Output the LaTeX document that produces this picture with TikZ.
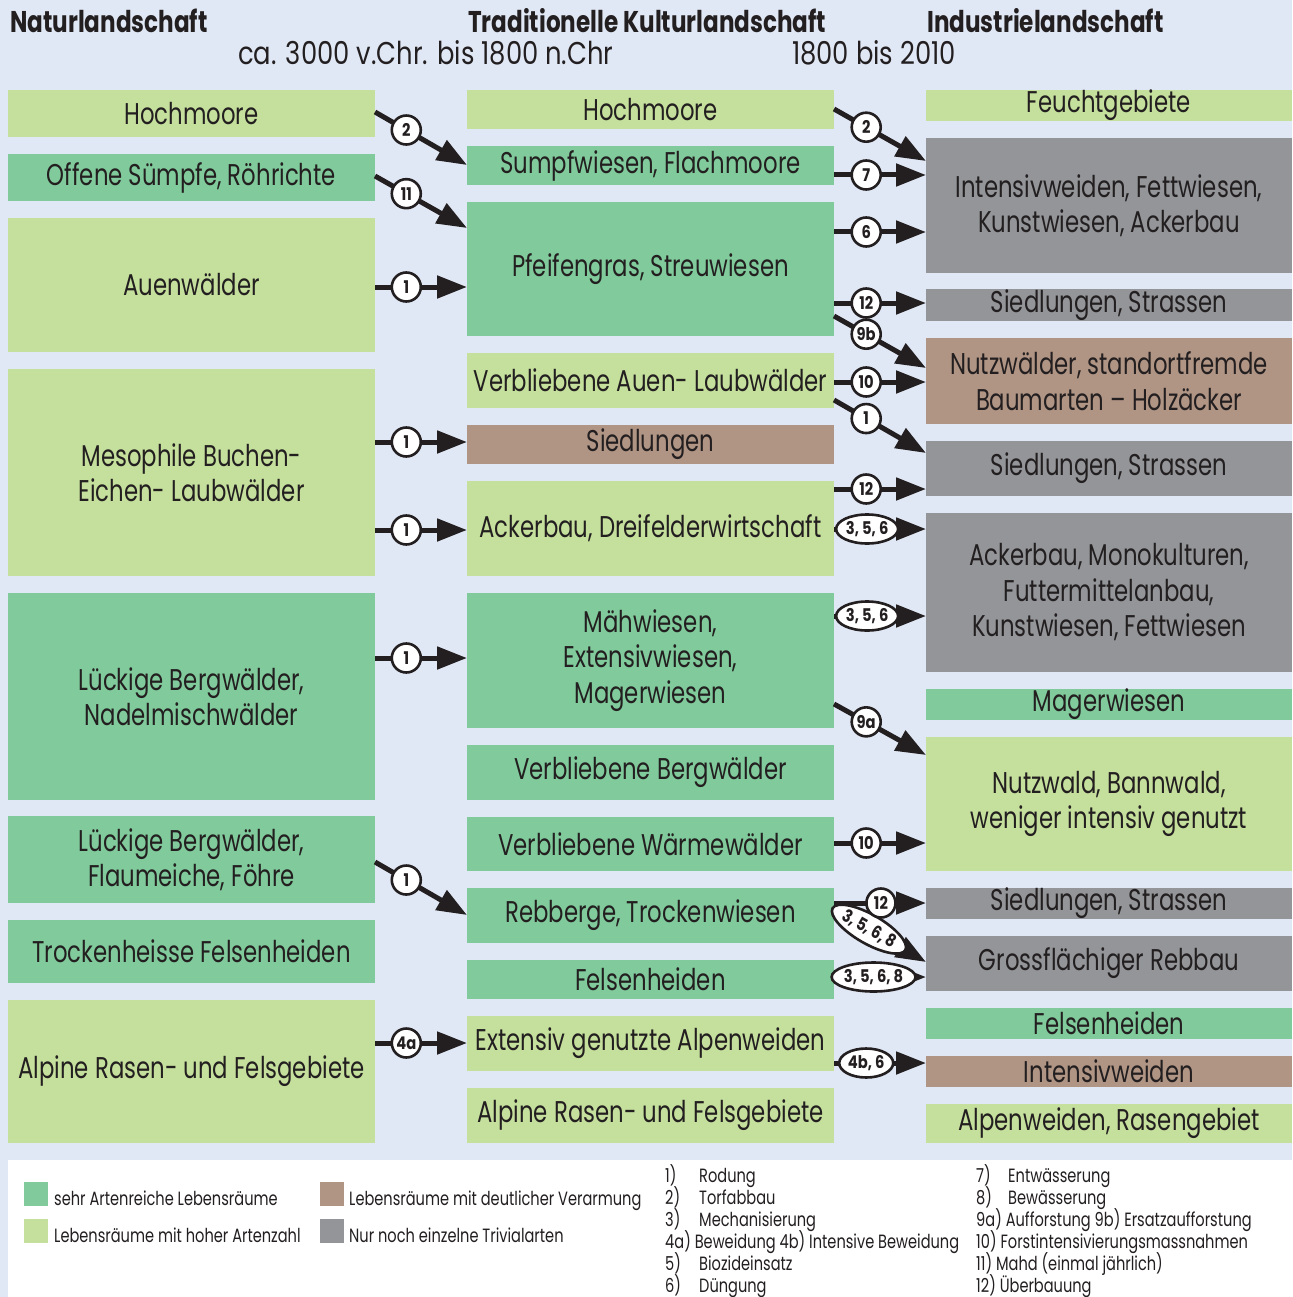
\documentclass[tikz,border=0pt]{standalone}
\usepackage{fontspec}
\setmainfont{Poppins}[FakeStretch=0.76]
\newfontfamily\headfont{Poppins}[FakeStretch=0.77]
\newfontfamily\erafont{Poppins}[FakeStretch=0.82]
\newfontfamily\tagfam{Poppins}[FakeStretch=0.84]
\usetikzlibrary{arrows.meta,shapes.geometric}

\definecolor{paper}{HTML}{E1E8F5}
\definecolor{rich}{HTML}{80CA9B}
\definecolor{high}{HTML}{C5E09D}
\definecolor{poor}{HTML}{B09585}
\definecolor{trivial}{HTML}{939598}
\definecolor{ink}{HTML}{231F20}

\newcommand\boxfont{\fontsize{30}{35.5}\selectfont}
\newcommand\tagfont{\tagfam\bfseries\fontsize{17.5}{17.5}\selectfont}
\newcommand\keyfont{\fontsize{19.2}{22}\selectfont}

% habitat box: name, colour, x0, y0, x1, y1, text
\newcommand\habitat[7]{%
  \node[hab, fill=#2, minimum width={#5pt-#3pt}, minimum height={#6pt-#4pt}]
    (#1) at (#3,#4) {#7};}

\tikzset{
  hab/.style={anchor=north west, inner sep=0pt, outer sep=0pt, align=center,
    font=\boxfont, text=ink},
  flow/.style={line width=5pt, draw=ink, -{Triangle[length=30pt,width=22pt]}},
  tag/.style={circle, draw=ink, line width=2.6pt, fill=white, inner sep=0pt,
    minimum size=29pt, font=\tagfont, text=ink},
  oval/.style={ellipse, draw=ink, line width=2.6pt, fill=white, inner sep=0pt,
    minimum height=29pt, font=\tagfont, text=ink},
  head/.style={anchor=base west, inner sep=0pt, text=ink,
    font=\headfont\bfseries\fontsize{30}{30}\selectfont},
  era/.style={anchor=base west, inner sep=0pt, text=ink,
    font=\erafont\fontsize{31.5}{31.5}\selectfont},
  key/.style={anchor=base west, inner sep=0pt, text=ink, font=\keyfont},
}

\begin{document}
\begin{tikzpicture}[x=1pt, y=-1pt]
\useasboundingbox (0,0) rectangle (1292,1297);
\fill[paper] (0,0) rectangle (1292,1297);

% column headings
\node[head] (h1) at (10,33) {Naturlandschaft};
\node[head] (h2) at (468,33) {Traditionelle Kulturlandschaft};
\node[head] (h3) at (927,33) {Industrielandschaft};
\node[era] (e2) at (238,65) {ca. 3000 v.Chr. bis 1800 n.Chr};
\node[era] (e3) at (792,65) {1800 bis 2010};

% natural landscape
\habitat{lHoch}{high}{8}{90}{375}{137}{Hochmoore}
\habitat{lSumpf}{rich}{8}{154}{375}{201}{Offene Sümpfe, Röhrichte}
\habitat{lAuen}{high}{8}{218}{375}{352}{Auenwälder}
\habitat{lMeso}{high}{8}{369}{375}{576}{Mesophile Buchen-\\Eichen- Laubwälder}
\habitat{lNadel}{rich}{8}{593}{375}{800}{Lückige Bergwälder,\\Nadelmischwälder}
\habitat{lFlaum}{rich}{8}{816}{375}{903}{Lückige Bergwälder,\\Flaumeiche, Föhre}
\habitat{lFels}{rich}{8}{920}{375}{983}{Trockenheisse Felsenheiden}
\habitat{lAlp}{high}{8}{1000}{375}{1143}{Alpine Rasen- und Felsgebiete}

% traditional cultural landscape
\habitat{mHoch}{high}{467}{90}{834}{129}{Hochmoore}
\habitat{mSumpf}{rich}{467}{146}{834}{185}{Sumpfwiesen, Flachmoore}
\habitat{mPfeif}{rich}{467}{202}{834}{336}{Pfeifengras, Streuwiesen}
\habitat{mAuen}{high}{467}{353}{834}{408}{Verbliebene Auen- Laubwälder}
\habitat{mSied}{poor}{467}{425}{834}{464}{Siedlungen}
\habitat{mAcker}{high}{467}{481}{834}{576}{Ackerbau, Dreifelderwirtschaft}
\habitat{mMaeh}{rich}{467}{593}{834}{728}{Mähwiesen,\\Extensivwiesen,\\Magerwiesen}
\habitat{mBerg}{rich}{467}{745}{834}{800}{Verbliebene Bergwälder}
\habitat{mWaerm}{rich}{467}{817}{834}{871}{Verbliebene Wärmewälder}
\habitat{mReb}{rich}{467}{888}{834}{943}{Rebberge, Trockenwiesen}
\habitat{mFels}{rich}{467}{960}{834}{999}{Felsenheiden}
\habitat{mExt}{high}{467}{1016}{834}{1071}{Extensiv genutzte Alpenweiden}
\habitat{mAlp}{high}{467}{1088}{834}{1143}{Alpine Rasen- und Felsgebiete}

% industrial landscape
\habitat{rFeucht}{high}{926}{90}{1292}{121}{Feuchtgebiete}
\habitat{rInt}{trivial}{926}{138}{1292}{273}{Intensivweiden, Fettwiesen,\\Kunstwiesen, Ackerbau}
\habitat{rSiedA}{trivial}{926}{289}{1292}{321}{Siedlungen, Strassen}
\habitat{rNutz}{poor}{926}{338}{1292}{424}{Nutzwälder, standortfremde\\Baumarten -- Holzäcker}
\habitat{rSiedB}{trivial}{926}{441}{1292}{496}{Siedlungen, Strassen}
\habitat{rMono}{trivial}{926}{513}{1292}{672}{Ackerbau, Monokulturen,\\Futtermittelanbau,\\Kunstwiesen, Fettwiesen}
\habitat{rMager}{rich}{926}{689}{1292}{720}{Magerwiesen}
\habitat{rWald}{high}{926}{737}{1292}{871}{Nutzwald, Bannwald,\\weniger intensiv genutzt}
\habitat{rSiedC}{trivial}{926}{888}{1292}{919}{Siedlungen, Strassen}
\habitat{rReb}{trivial}{926}{936}{1292}{991}{Grossflächiger Rebbau}
\habitat{rFels}{rich}{926}{1008}{1292}{1039}{Felsenheiden}
\habitat{rWeid}{poor}{926}{1056}{1292}{1087}{Intensivweiden}
\habitat{rAlp}{high}{926}{1104}{1292}{1143}{Alpenweiden, Rasengebiet}

% transitions: natural -> traditional
\draw[flow] (lHoch.east |- 0,112) -- node[tag,pos=.34]{2} (mSumpf.west |- 0,165);
\draw[flow] (lSumpf.east |- 0,176) -- node[tag,pos=.34]{11} (mPfeif.west |- 0,228);
\draw[flow] (lAuen.east |- 0,287) -- node[tag,pos=.34]{1} (mPfeif.west |- 0,287);
\draw[flow] (lMeso.east |- 0,442) -- node[tag,pos=.34]{1} (mSied.west |- 0,442);
\draw[flow] (lMeso.east |- 0,530) -- node[tag,pos=.34]{1} (mAcker.west |- 0,530);
\draw[flow] (lNadel.east |- 0,658) -- node[tag,pos=.34]{1} (mMaeh.west |- 0,658);
\draw[flow] (lFlaum.east |- 0,862) -- node[tag,pos=.34]{1} (mReb.west |- 0,915);
\draw[flow] (lAlp.east |- 0,1043) -- node[tag,pos=.34]{4a} (mExt.west |- 0,1043);

% transitions: traditional -> industrial
\draw[flow] (mHoch.east |- 0,109) -- node[tag,pos=.35]{2} (rInt.west |- 0,161);
\draw[flow] (mSumpf.east |- 0,175) -- node[tag,pos=.35]{7} (rInt.west |- 0,175);
\draw[flow] (mPfeif.east |- 0,232) -- node[tag,pos=.35]{6} (rInt.west |- 0,232);
\draw[flow] (mPfeif.east |- 0,303) -- node[tag,pos=.35]{12} (rSiedA.west |- 0,303);
\draw[flow] (mPfeif.east |- 0,316) -- node[tag,pos=.35]{9b} (rNutz.west |- 0,368);
\draw[flow] (mAuen.east |- 0,382) -- node[tag,pos=.35]{10} (rNutz.west |- 0,382);
\draw[flow] (mAuen.east |- 0,400) -- node[tag,pos=.35]{1} (rSiedB.west |- 0,453);
\draw[flow] (mAcker.east |- 0,489) -- node[tag,pos=.35]{12} (rSiedB.west |- 0,489);
\draw[flow] (mAcker.east |- 0,529) -- node[oval,minimum width=62pt,pos=.36]{3, 5, 6} (rMono.west |- 0,529);
\draw[flow] (mMaeh.east |- 0,616) -- node[oval,minimum width=62pt,pos=.36]{3, 5, 6} (rMono.west |- 0,616);
\draw[flow] (mMaeh.east |- 0,704) -- node[tag,pos=.35]{9a} (rWald.west |- 0,755);
\draw[flow] (mWaerm.east |- 0,843) -- node[tag,pos=.35]{10} (rWald.west |- 0,843);
\draw[flow] (mReb.east |- 0,909) -- node[oval,minimum width=78pt,sloped,pos=.38]{3, 5, 6, 8} (rReb.west |- 0,962);
\draw[flow] (mReb.east |- 0,903) -- node[tag,pos=.51]{12} (rSiedC.west |- 0,903);
\draw[flow] (mFels.east |- 0,977) -- node[oval,minimum width=78pt,pos=.43]{3, 5, 6, 8} (rReb.west |- 0,977);
\draw[flow] (mExt.east |- 0,1063) -- node[oval,minimum width=54pt,pos=.35]{4b, 6} (rWeid.west |- 0,1063);

% key
\fill[white] (8,1160) rectangle (1292,1297);
\fill[rich] (24,1182) rectangle (48,1206);
\fill[high] (24,1219) rectangle (48,1243);
\fill[poor] (320,1182) rectangle (344,1206);
\fill[trivial] (320,1219) rectangle (344,1243);
\node[key] (k1) at (54,1205) {sehr Artenreiche Lebensräume};
\node[key] (k2) at (54,1242) {Lebensräume mit hoher Artenzahl};
\node[key] (k3) at (349,1205) {Lebensräume mit deutlicher Verarmung};
\node[key] (k4) at (349,1242) {Nur noch einzelne Trivialarten};

\node[key] (n1) at (665,1182) {1)};  \node[key] (t1) at (699,1182) {Rodung};
\node[key] (n2) at (665,1204) {2)};  \node[key] (t2) at (699,1204) {Torfabbau};
\node[key] (n3) at (665,1226) {3)};  \node[key] (t3) at (699,1226) {Mechanisierung};
\node[key] (n4) at (665,1248) {4a) Beweidung 4b) Intensive Beweidung};
\node[key] (n5) at (665,1270) {5)};  \node[key] (t5) at (699,1270) {Biozideinsatz};
\node[key] (n6) at (665,1292) {6)};  \node[key] (t6) at (699,1292) {Düngung};

\node[key] (n7) at (976,1182) {7)};  \node[key] (t7) at (1008,1182) {Entwässerung};
\node[key] (n8) at (976,1204) {8)};  \node[key] (t8) at (1008,1204) {Bewässerung};
\node[key] (n9) at (976,1226) {9a) Aufforstung 9b) Ersatzaufforstung};
\node[key] (n10) at (976,1248) {10) Forstintensivierungsmassnahmen};
\node[key] (n11) at (976,1270) {11) Mahd (einmal jährlich)};
\node[key] (n12) at (976,1292) {12) Überbauung};
\end{tikzpicture}
\end{document}
